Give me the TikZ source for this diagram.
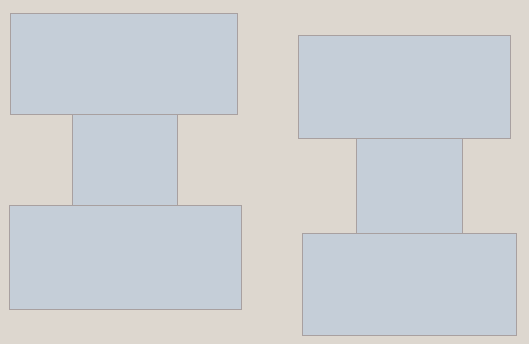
\documentclass[tikz,border=0pt]{standalone}
\usetikzlibrary{positioning}
\definecolor{paper}{RGB}{221,215,207}
\definecolor{boxfill}{RGB}{197,206,216}
\definecolor{boxedge}{RGB}{168,160,160}
\tikzset{
  blk/.style={draw=boxedge, fill=boxfill, line width=0.9pt, inner sep=0pt, outer sep=0pt, anchor=north west}
}
\begin{document}
\begin{tikzpicture}[x=1pt,y=-1pt]
\fill[paper] (0,0) rectangle (529,344);
\useasboundingbox (0,0) rectangle (529,344);
% left stack
\node[blk, minimum width=105pt, minimum height=93pt] (lmid) at (72,113) {};
\node[blk, minimum width=227pt, minimum height=101pt] (ltop) at (10,13) {};
\node[blk, minimum width=232pt, minimum height=104pt] (lbot) at (9,205) {};
% right stack
\node[blk, minimum width=106pt, minimum height=97pt] (rmid) at (356,137) {};
\node[blk, minimum width=212pt, minimum height=103pt] (rtop) at (298,35) {};
\node[blk, minimum width=214pt, minimum height=102pt] (rbot) at (302,233) {};
\end{tikzpicture}
\end{document}
